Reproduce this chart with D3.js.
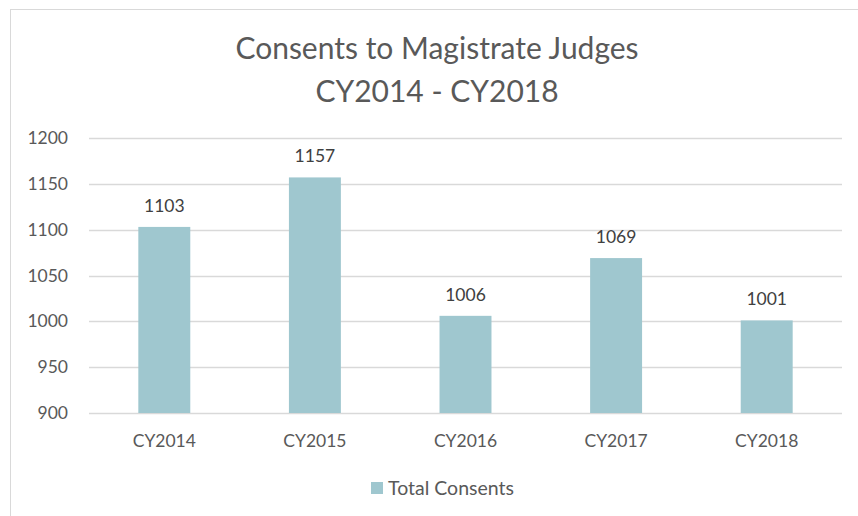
<!DOCTYPE html>
<html lang="en">
  <head>
    <meta charset="UTF-8" />
    <script src="https://d3js.org/d3.v7.min.js"></script>
    <style>
      body { margin: 0; background: #fff; }
      text { font-family: Lato, "Open Sans", sans-serif; fill: #595959; }
    </style>
  </head>
  <body>
    <script>
      var years = ["CY2014", "CY2015", "CY2016", "CY2017", "CY2018"];
      var consents = [1103, 1157, 1006, 1069, 1001];
      var yTicks = [900, 950, 1000, 1050, 1100, 1150, 1200];
      var seriesName = "Total Consents";

      var width = 858,
        height = 516;

      var svg = d3
        .select("body")
        .append("svg")
        .attr("width", width)
        .attr("height", height);

      // chart frame
      svg
        .append("rect")
        .attr("x", 10.5)
        .attr("y", 9.5)
        .attr("width", 900)
        .attr("height", 600)
        .attr("fill", "#fff")
        .attr("stroke", "#d9d9d9");

      var x = d3
        .scaleBand()
        .domain(years)
        .range([89, 842])
        .paddingInner(0.655)
        .paddingOuter(0.3275);

      var y = d3.scaleLinear().domain([900, 1200]).range([413, 138]);

      // gridlines
      svg
        .append("g")
        .selectAll("line")
        .data(yTicks)
        .enter()
        .append("line")
        .attr("x1", 89)
        .attr("x2", 842)
        .attr("y1", function (d) { return Math.round(y(d)) + 0.5; })
        .attr("y2", function (d) { return Math.round(y(d)) + 0.5; })
        .attr("stroke", "#d9d9d9")
        .attr("stroke-width", 1.3);

      // y labels
      svg
        .append("g")
        .selectAll("text")
        .data(yTicks)
        .enter()
        .append("text")
        .attr("x", 68)
        .attr("y", function (d) { return y(d); })
        .attr("dy", "0.35em")
        .attr("text-anchor", "end")
        .style("font-size", "17.5px")
        .text(function (d) { return d; });

      // bars
      svg
        .append("g")
        .selectAll("rect")
        .data(consents)
        .enter()
        .append("rect")
        .attr("x", function (d, i) { return x(years[i]); })
        .attr("y", function (d) { return y(d); })
        .attr("width", x.bandwidth())
        .attr("height", function (d) { return y(900) - y(d); })
        .attr("fill", "#9fc7cf");

      // value labels
      svg
        .append("g")
        .selectAll("text")
        .data(consents)
        .enter()
        .append("text")
        .attr("x", function (d, i) { return x(years[i]) + x.bandwidth() / 2; })
        .attr("y", function (d) { return y(d) - 15; })
        .attr("text-anchor", "middle")
        .style("font-size", "17.5px")
        .style("fill", "#404040")
        .text(function (d) { return d; });

      // x labels
      svg
        .append("g")
        .selectAll("text")
        .data(years)
        .enter()
        .append("text")
        .attr("x", function (d) { return x(d) + x.bandwidth() / 2; })
        .attr("y", 447)
        .attr("text-anchor", "middle")
        .style("font-size", "17.5px")
        .text(function (d) { return d; });

      // title
      var title = svg
        .append("text")
        .attr("text-anchor", "middle")
        .style("font-size", "30px");
      title.append("tspan").attr("x", 437).attr("y", 59).text("Consents to Magistrate Judges");
      title.append("tspan").attr("x", 437).attr("y", 102).text("CY2014 - CY2018");

      // legend
      svg
        .append("rect")
        .attr("x", 371)
        .attr("y", 482)
        .attr("width", 12)
        .attr("height", 12)
        .attr("fill", "#9fc7cf");
      svg
        .append("text")
        .attr("x", 388)
        .attr("y", 495)
        .style("font-size", "19.5px")
        .text(seriesName);
    </script>
  </body>
</html>
